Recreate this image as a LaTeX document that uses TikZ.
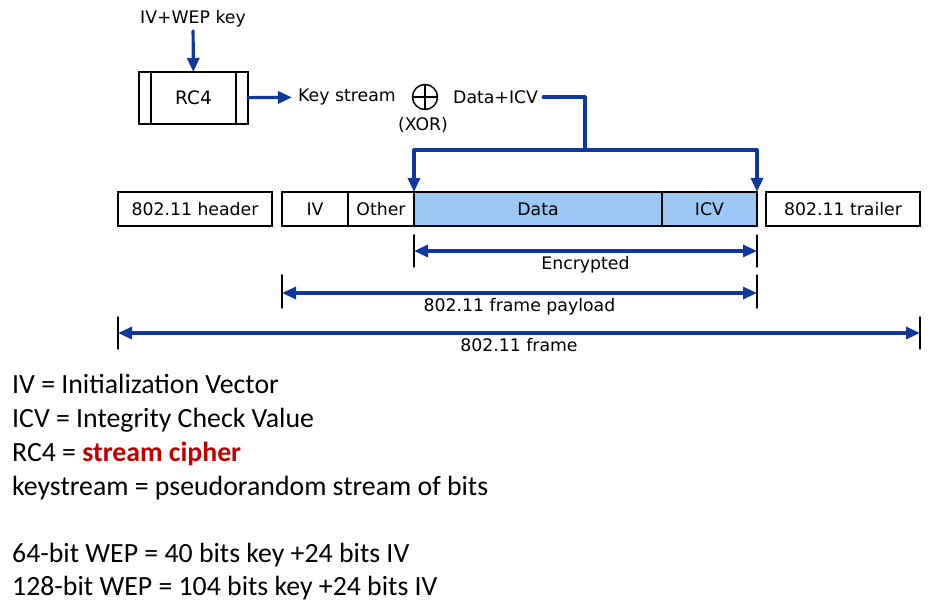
\documentclass[tikz,border=0pt]{standalone}
\usepackage{fontspec}
\setmainfont{Carlito}
\newfontfamily\diagfont{DejaVu Sans}
\usetikzlibrary{arrows.meta}
\definecolor{wepblue}{RGB}{16,56,156}
\definecolor{datablue}{RGB}{156,200,245}
\definecolor{cipherred}{RGB}{192,0,0}
\begin{document}
\begin{tikzpicture}[x=1pt, y=-1pt, line cap=round, line join=round, font=\diagfont\fontsize{17.3}{20}\selectfont, >={Triangle[length=14pt,width=12pt]}]
	\tikzset{field/.style={draw, line width=1.5pt, line join=miter, minimum height=34pt, inner sep=0pt, outer sep=0pt, anchor=west},
		flow/.style={draw=wepblue, line width=3.2pt},
		dim/.style={draw=wepblue, line width=3.2pt, <->},
		tick/.style={line width=1.5pt},
		def/.style={anchor=base west, inner sep=0pt, font=\fontsize{27.8}{32}\selectfont}}
	\useasboundingbox (0,0) rectangle (940,609);
	% key stream part
	\node (ivkey) at (193,19) {IV+WEP key};
	\node[draw, line width=1.5pt, line join=miter, minimum width=109pt, minimum height=52pt, outer sep=0pt, font=\diagfont\fontsize{18.5}{22}\selectfont] (rc4) at (193.5,98) {RC4};
	\draw[line width=1.5pt] ([xshift=12pt]rc4.north west) -- ([xshift=12pt]rc4.south west);
	\draw[line width=1.5pt] ([xshift=-12pt]rc4.north east) -- ([xshift=-12pt]rc4.south east);
	\draw[flow, ->] (ivkey) -- (rc4);
	\node[anchor=west, inner sep=6pt] (ks) at (292,97) {Key stream};
	\draw[flow, ->] (rc4) -- (ks);
	\node[circle, draw, line width=1.5pt, minimum size=25pt, inner sep=0pt, path picture={\draw[line width=1.5pt] (path picture bounding box.north) -- (path picture bounding box.south) (path picture bounding box.west) -- (path picture bounding box.east);}] (xor) at (425,97) {};
	\node (xorlbl) at (423,125) {(XOR)};
	\node[anchor=west, inner sep=5pt] (dicv) at (448,97) {Data+ICV};
	% frame
	\node[field, minimum width=154pt] (hdr) at (118,209) {802.11 header};
	\node[field, minimum width=66pt] (iv) at (282,209) {IV};
	\node[field, minimum width=66pt] (other) at (iv.east) {Other};
	\node[field, minimum width=248pt, fill=datablue] (data) at (other.east) {Data};
	\node[field, minimum width=95pt, fill=datablue] (icv) at (data.east) {ICV};
	\node[field, minimum width=154pt] (trl) at (766,209) {802.11 trailer};
	\coordinate (split) at (585,150);
	\draw[flow] (dicv.east) -| (split);
	\draw[flow, ->] (split) -| (data.north west);
	\draw[flow, ->] (split) -| (icv.north east);
	% extents
	\draw[tick] (data.south west) ++(0,9) -- ++(0,32);
	\draw[tick] (icv.south east) ++(0,9) -- ++(0,32);
	\draw[dim] ([yshift=-25pt]data.south west) -- ([yshift=-25pt]icv.south east) node[midway, below] {Encrypted};
	\draw[tick] (iv.south west) ++(0,49) -- ++(0,33);
	\draw[tick] (icv.south east) ++(0,49) -- ++(0,33);
	\draw[dim] ([yshift=-67pt]iv.south west) -- ([yshift=-67pt]icv.south east) node[midway, below] {802.11 frame payload};
	\draw[tick] (hdr.south west) ++(0,91) -- ++(0,32);
	\draw[tick] (trl.south east) ++(0,91) -- ++(0,32);
	\draw[dim] ([yshift=-107pt]hdr.south west) -- ([yshift=-107pt]trl.south east) node[midway, below] {802.11 frame};
	% definitions
	\node[def] (defiv) at (12,394) {IV = Initialization Vector};
	\node[def] (deficv) at (12,428) {ICV = Integrity Check Value};
	\node[def] (defrc) at (12,461) {RC4 = \textcolor{cipherred}{\bfseries stream cipher}};
	\node[def] (defks) at (12,495) {keystream = pseudorandom stream of bits};
	\node[def] (defsf) at (12,562) {64-bit WEP = 40 bits key +24 bits IV};
	\node[def] (defst) at (12,595) {128-bit WEP = 104 bits key +24 bits IV};
\end{tikzpicture}
\end{document}
